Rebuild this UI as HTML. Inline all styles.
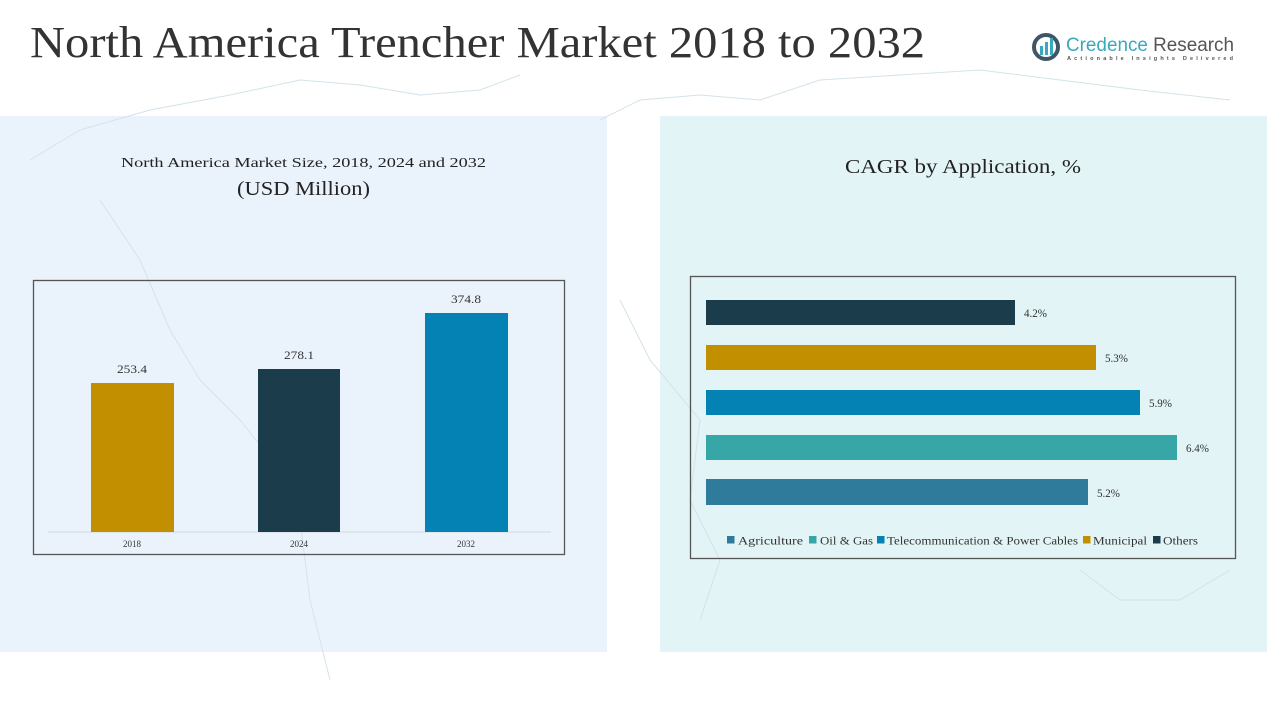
<!DOCTYPE html>
<html>
<head>
<meta charset="utf-8">
<style>
html,body{margin:0;padding:0;background:#fff;}
body{width:1267px;height:713px;overflow:hidden;position:relative;font-family:"Liberation Serif","Noto Serif CJK SC",serif;}
svg{position:absolute;left:0;top:0;}
</style>
</head>
<body>
<svg width="1267" height="713" viewBox="0 0 1267 713" xmlns="http://www.w3.org/2000/svg">
  <!-- panels -->
  <rect x="0" y="116" width="607" height="536" fill="#eaf3fb"/>
  <rect x="660" y="116" width="607" height="536" fill="#e2f4f5"/>

  <!-- faint map hints -->
  <g fill="none" stroke="#d3e3ea" stroke-width="1">
    <path d="M30 160 L80 130 L150 110 L230 95 L300 80 L360 85 L420 95 L480 90 L520 75"/>
    <path d="M100 200 L140 260 L170 330 L200 380 L240 420 L280 470 L300 520 L310 600 L330 680"/>
    <path d="M600 120 L640 100 L700 95 L760 100 L820 80 L900 75 L980 70 L1060 80 L1140 90 L1230 100"/>
    <path d="M620 300 L650 360 L700 420 L690 500 L720 560 L700 620"/>
    <path d="M1080 570 L1120 600 L1180 600 L1230 570"/>
  </g>

  <!-- title -->
  <text x="30" y="57" font-size="44" fill="#333" textLength="895" lengthAdjust="spacingAndGlyphs" font-family="Liberation Serif, serif">North America Trencher Market 2018 to 2032</text>

  <!-- logo -->
  <g>
    <circle cx="1046" cy="47" r="12" fill="none" stroke="#3e5666" stroke-width="4"/>
    <rect x="1040" y="46" width="3" height="9" fill="#3aa8bd"/>
    <rect x="1045" y="42" width="3" height="13" fill="#3aa8bd"/>
    <rect x="1050" y="38" width="3" height="17" fill="#3aa8bd"/>
    <text x="1066" y="51" font-size="19" font-family="Liberation Sans, sans-serif" textLength="168" lengthAdjust="spacingAndGlyphs"><tspan fill="#3aa8bd">Credence</tspan><tspan fill="#555"> Research</tspan></text>
    <text x="1067" y="60" font-size="5.5" font-family="Liberation Sans, sans-serif" fill="#555" font-weight="bold" textLength="166" lengthAdjust="spacing">Actionable Insights Delivered</text>
  </g>

  <!-- left chart titles -->
  <text x="121" y="167" font-size="14" fill="#222" textLength="365" lengthAdjust="spacingAndGlyphs">North America Market Size, 2018, 2024 and 2032</text>
  <text x="237" y="195" font-size="20" fill="#222" textLength="133" lengthAdjust="spacingAndGlyphs">(USD Million)</text>

  <!-- left chart frame -->
  <rect x="33.5" y="280.5" width="531" height="274" fill="none" stroke="#555" stroke-width="1.3"/>
  <line x1="48" y1="532" x2="551" y2="532" stroke="#d6dde2" stroke-width="1.2"/>
  <rect x="91" y="383" width="83" height="149" fill="#c18f00"/>
  <rect x="258" y="369" width="82" height="163" fill="#1a3c4b"/>
  <rect x="425" y="313" width="83" height="219" fill="#0582b4"/>
  <g font-size="12" fill="#333" text-anchor="middle">
    <text x="132" y="373" textLength="30" lengthAdjust="spacingAndGlyphs">253.4</text>
    <text x="299" y="359" textLength="30" lengthAdjust="spacingAndGlyphs">278.1</text>
    <text x="466" y="303" textLength="30" lengthAdjust="spacingAndGlyphs">374.8</text>
  </g>
  <g font-size="9.5" fill="#333" text-anchor="middle">
    <text x="132" y="547" textLength="18" lengthAdjust="spacingAndGlyphs">2018</text>
    <text x="299" y="547" textLength="18" lengthAdjust="spacingAndGlyphs">2024</text>
    <text x="466" y="547" textLength="18" lengthAdjust="spacingAndGlyphs">2032</text>
  </g>

  <!-- right chart title -->
  <text x="845" y="173" font-size="20" fill="#222" textLength="236" lengthAdjust="spacingAndGlyphs">CAGR by Application, %</text>

  <!-- right chart frame -->
  <rect x="690.5" y="276.5" width="545" height="282" fill="none" stroke="#555" stroke-width="1.3"/>
  <rect x="706" y="300" width="309" height="25" fill="#1a3c4b"/>
  <rect x="706" y="345" width="390" height="25" fill="#c18f00"/>
  <rect x="706" y="390" width="434" height="25" fill="#0582b4"/>
  <rect x="706" y="435" width="471" height="25" fill="#36a6a6"/>
  <rect x="706" y="479" width="382" height="26" fill="#2f7b9c"/>
  <g font-size="11.5" fill="#333">
    <text x="1024" y="317" textLength="23" lengthAdjust="spacingAndGlyphs">4.2%</text>
    <text x="1105" y="362" textLength="23" lengthAdjust="spacingAndGlyphs">5.3%</text>
    <text x="1149" y="407" textLength="23" lengthAdjust="spacingAndGlyphs">5.9%</text>
    <text x="1186" y="452" textLength="23" lengthAdjust="spacingAndGlyphs">6.4%</text>
    <text x="1097" y="497" textLength="23" lengthAdjust="spacingAndGlyphs">5.2%</text>
  </g>

  <!-- legend -->
  <g font-size="12" fill="#333">
    <rect x="727" y="536" width="7.5" height="7.5" fill="#2f7b9c"/>
    <text x="738" y="544.5" textLength="65" lengthAdjust="spacingAndGlyphs">Agriculture</text>
    <rect x="809" y="536" width="7.5" height="7.5" fill="#36a6a6"/>
    <text x="820" y="544.5" textLength="53" lengthAdjust="spacingAndGlyphs">Oil &amp; Gas</text>
    <rect x="877" y="536" width="7.5" height="7.5" fill="#0582b4"/>
    <text x="887" y="544.5" textLength="191" lengthAdjust="spacingAndGlyphs">Telecommunication &amp; Power Cables</text>
    <rect x="1083" y="536" width="7.5" height="7.5" fill="#c18f00"/>
    <text x="1093" y="544.5" textLength="54" lengthAdjust="spacingAndGlyphs">Municipal</text>
    <rect x="1153" y="536" width="7.5" height="7.5" fill="#1a3c4b"/>
    <text x="1163" y="544.5" textLength="35" lengthAdjust="spacingAndGlyphs">Others</text>
  </g>
</svg>
</body>
</html>
